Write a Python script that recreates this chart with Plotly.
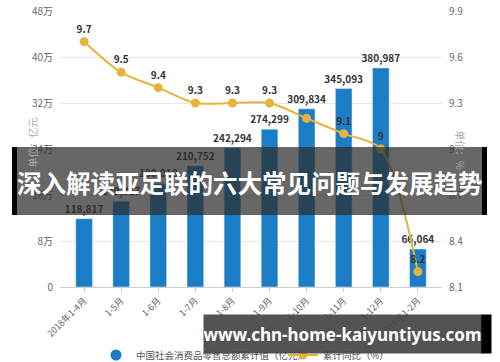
import plotly.graph_objects as go

categories = ["2018年1-4月", "1-5月", "1-6月", "1-7月", "1-8月", "1-9月",
              "1-10月", "1-11月", "1-12月", "2019年1-2月"]
retail_total = [118817, 149317, 180018, 210752, 242294, 274299, 309834, 345093, 380987, 66064]
yoy_growth = [9.7, 9.5, 9.4, 9.3, 9.3, 9.3, 9.2, 9.1, 9.0, 8.2]
yoy_labels = ["9.7", "9.5", "9.4", "9.3", "9.3", "9.3", "", "9.1", "9", "8.2"]
left_ticks = [0, 80000, 160000, 240000, 320000, 400000, 480000]
left_ticktext = ["0", "8万", "16万", "24万", "32万", "40万", "48万"]
right_ticks = [8.1, 8.4, 8.7, 9.0, 9.3, 9.6, 9.9]
right_ticktext = ["8.1", "8.4", "8.7", "9", "9.3", "9.6", "9.9"]

BLUE = "#1B7DC6"
GOLD = "#E6B43C"
FONT = "Noto Sans CJK SC"

W, H = 500, 362
# plot area in screen pixels
L, R, T, B = 60, 442, 11, 287

fig = go.Figure()
fig.add_trace(go.Bar(
    x=categories, y=retail_total, marker_color=BLUE, width=0.45,
    text=[f"{v:,}" for v in retail_total], textposition="outside",
    constraintext="none",
    textfont=dict(size=10, color="#333", family=FONT, weight="bold"),
    cliponaxis=False, showlegend=False, name="中国社会消费品零售总额累计值（亿元）"))
fig.add_trace(go.Scatter(
    x=[None], y=[None], mode="markers",
    marker=dict(color=BLUE, size=11, symbol="circle"),
    name="中国社会消费品零售总额累计值（亿元）"))
fig.add_trace(go.Scatter(
    x=categories, y=yoy_growth, yaxis="y2", mode="lines+markers+text",
    line=dict(color=GOLD, width=2, shape="spline", smoothing=0.8),
    marker=dict(color=GOLD, size=9),
    text=yoy_labels, textposition="top center",
    textfont=dict(size=10, color="#333", family=FONT, weight="bold"),
    cliponaxis=False, name="累计同比（%）"))

fig.update_layout(
    width=W, height=H,
    margin=dict(l=L, r=W - R, t=T, b=H - B, autoexpand=False),
    paper_bgcolor="white", plot_bgcolor="white",
    font=dict(family=FONT, color="#666", size=10),
    xaxis=dict(range=[-0.65, 9.65], tickangle=-45, tickfont=dict(size=9, color="#666"),
               showline=True, linecolor="#ccc", ticks="outside", ticklen=4, tickcolor="#ccc",
               showgrid=False, automargin=False),
    yaxis=dict(range=[0, 480000], tickvals=left_ticks, ticktext=left_ticktext,
               showgrid=True, gridcolor="#e6e6e6", zeroline=False, automargin=False,
               ticklabeloverflow="allow",
               tickfont=dict(size=10, color="#666"), ticks="", ticklabelstandoff=6),
    yaxis2=dict(range=[8.1, 9.9], tickvals=right_ticks, ticktext=right_ticktext,
                overlaying="y", side="right", showgrid=False, zeroline=False, automargin=False,
                ticklabeloverflow="allow",
                tickfont=dict(size=10, color="#666"), ticklabelstandoff=6),
    legend=dict(orientation="h", x=96 / W, xanchor="left", xref="container",
                y=(H - 355) / H, yanchor="middle", yref="container",
                entrywidth=142, entrywidthmode="pixels",
                font=dict(size=9.5, color="#555"), itemwidth=30, bgcolor="rgba(0,0,0,0)"),
)


def px_x(v):
    return (v - L) / (R - L)


def px_y(v):
    return (B - v) / (B - T)


# axis titles
fig.add_annotation(xref="paper", yref="paper", x=px_x(22), y=px_y(143), text="单位：亿元",
                   textangle=-90, showarrow=False, font=dict(size=10, color="#aaa"))
fig.add_annotation(xref="paper", yref="paper", x=px_x(470), y=px_y(150), text="单位：%",
                   textangle=90, showarrow=False, font=dict(size=10, color="#aaa"))

shapes = [
    dict(type="rect", xref="paper", yref="paper", x0=px_x(12), x1=px_x(487),
         y0=px_y(215), y1=px_y(147), fillcolor="rgba(45,45,45,0.72)", line_width=0, layer="above"),
    dict(type="rect", xref="paper", yref="paper", x0=px_x(12), x1=px_x(17),
         y0=px_y(215), y1=px_y(147), fillcolor="black", line_width=0, layer="above"),
    dict(type="rect", xref="paper", yref="paper", x0=px_x(482), x1=px_x(487),
         y0=px_y(215), y1=px_y(147), fillcolor="black", line_width=0, layer="above"),
]
fig.update_layout(shapes=shapes)

fig.add_annotation(xref="paper", yref="paper", x=px_x(250), y=px_y(182),
                   text="<b>深入解读亚足联的六大常见问题与发展趋势</b>", showarrow=False,
                   font=dict(size=24.5, color="white", family=FONT))

# bottom url banner built from annotations with backgrounds
fig.add_annotation(xref="paper", yref="paper", x=px_x(486), y=px_y(334),
                   text="", showarrow=False, width=10, height=38, borderpad=0,
                   bgcolor="black", xanchor="center", yanchor="middle")
fig.add_annotation(xref="paper", yref="paper", x=px_x(342), y=px_y(334),
                   text="<b>www.chn-home-kaiyuntiyus.com</b>", showarrow=False,
                   width=277, height=38, borderpad=0, bgcolor="rgba(70,70,70,0.93)",
                   xanchor="center", yanchor="middle",
                   font=dict(size=17, color="white", family="Noto Sans"))

fig.write_html("out.html", config={"displayModeBar": False},
               post_script="document.body.style.margin='0';")
